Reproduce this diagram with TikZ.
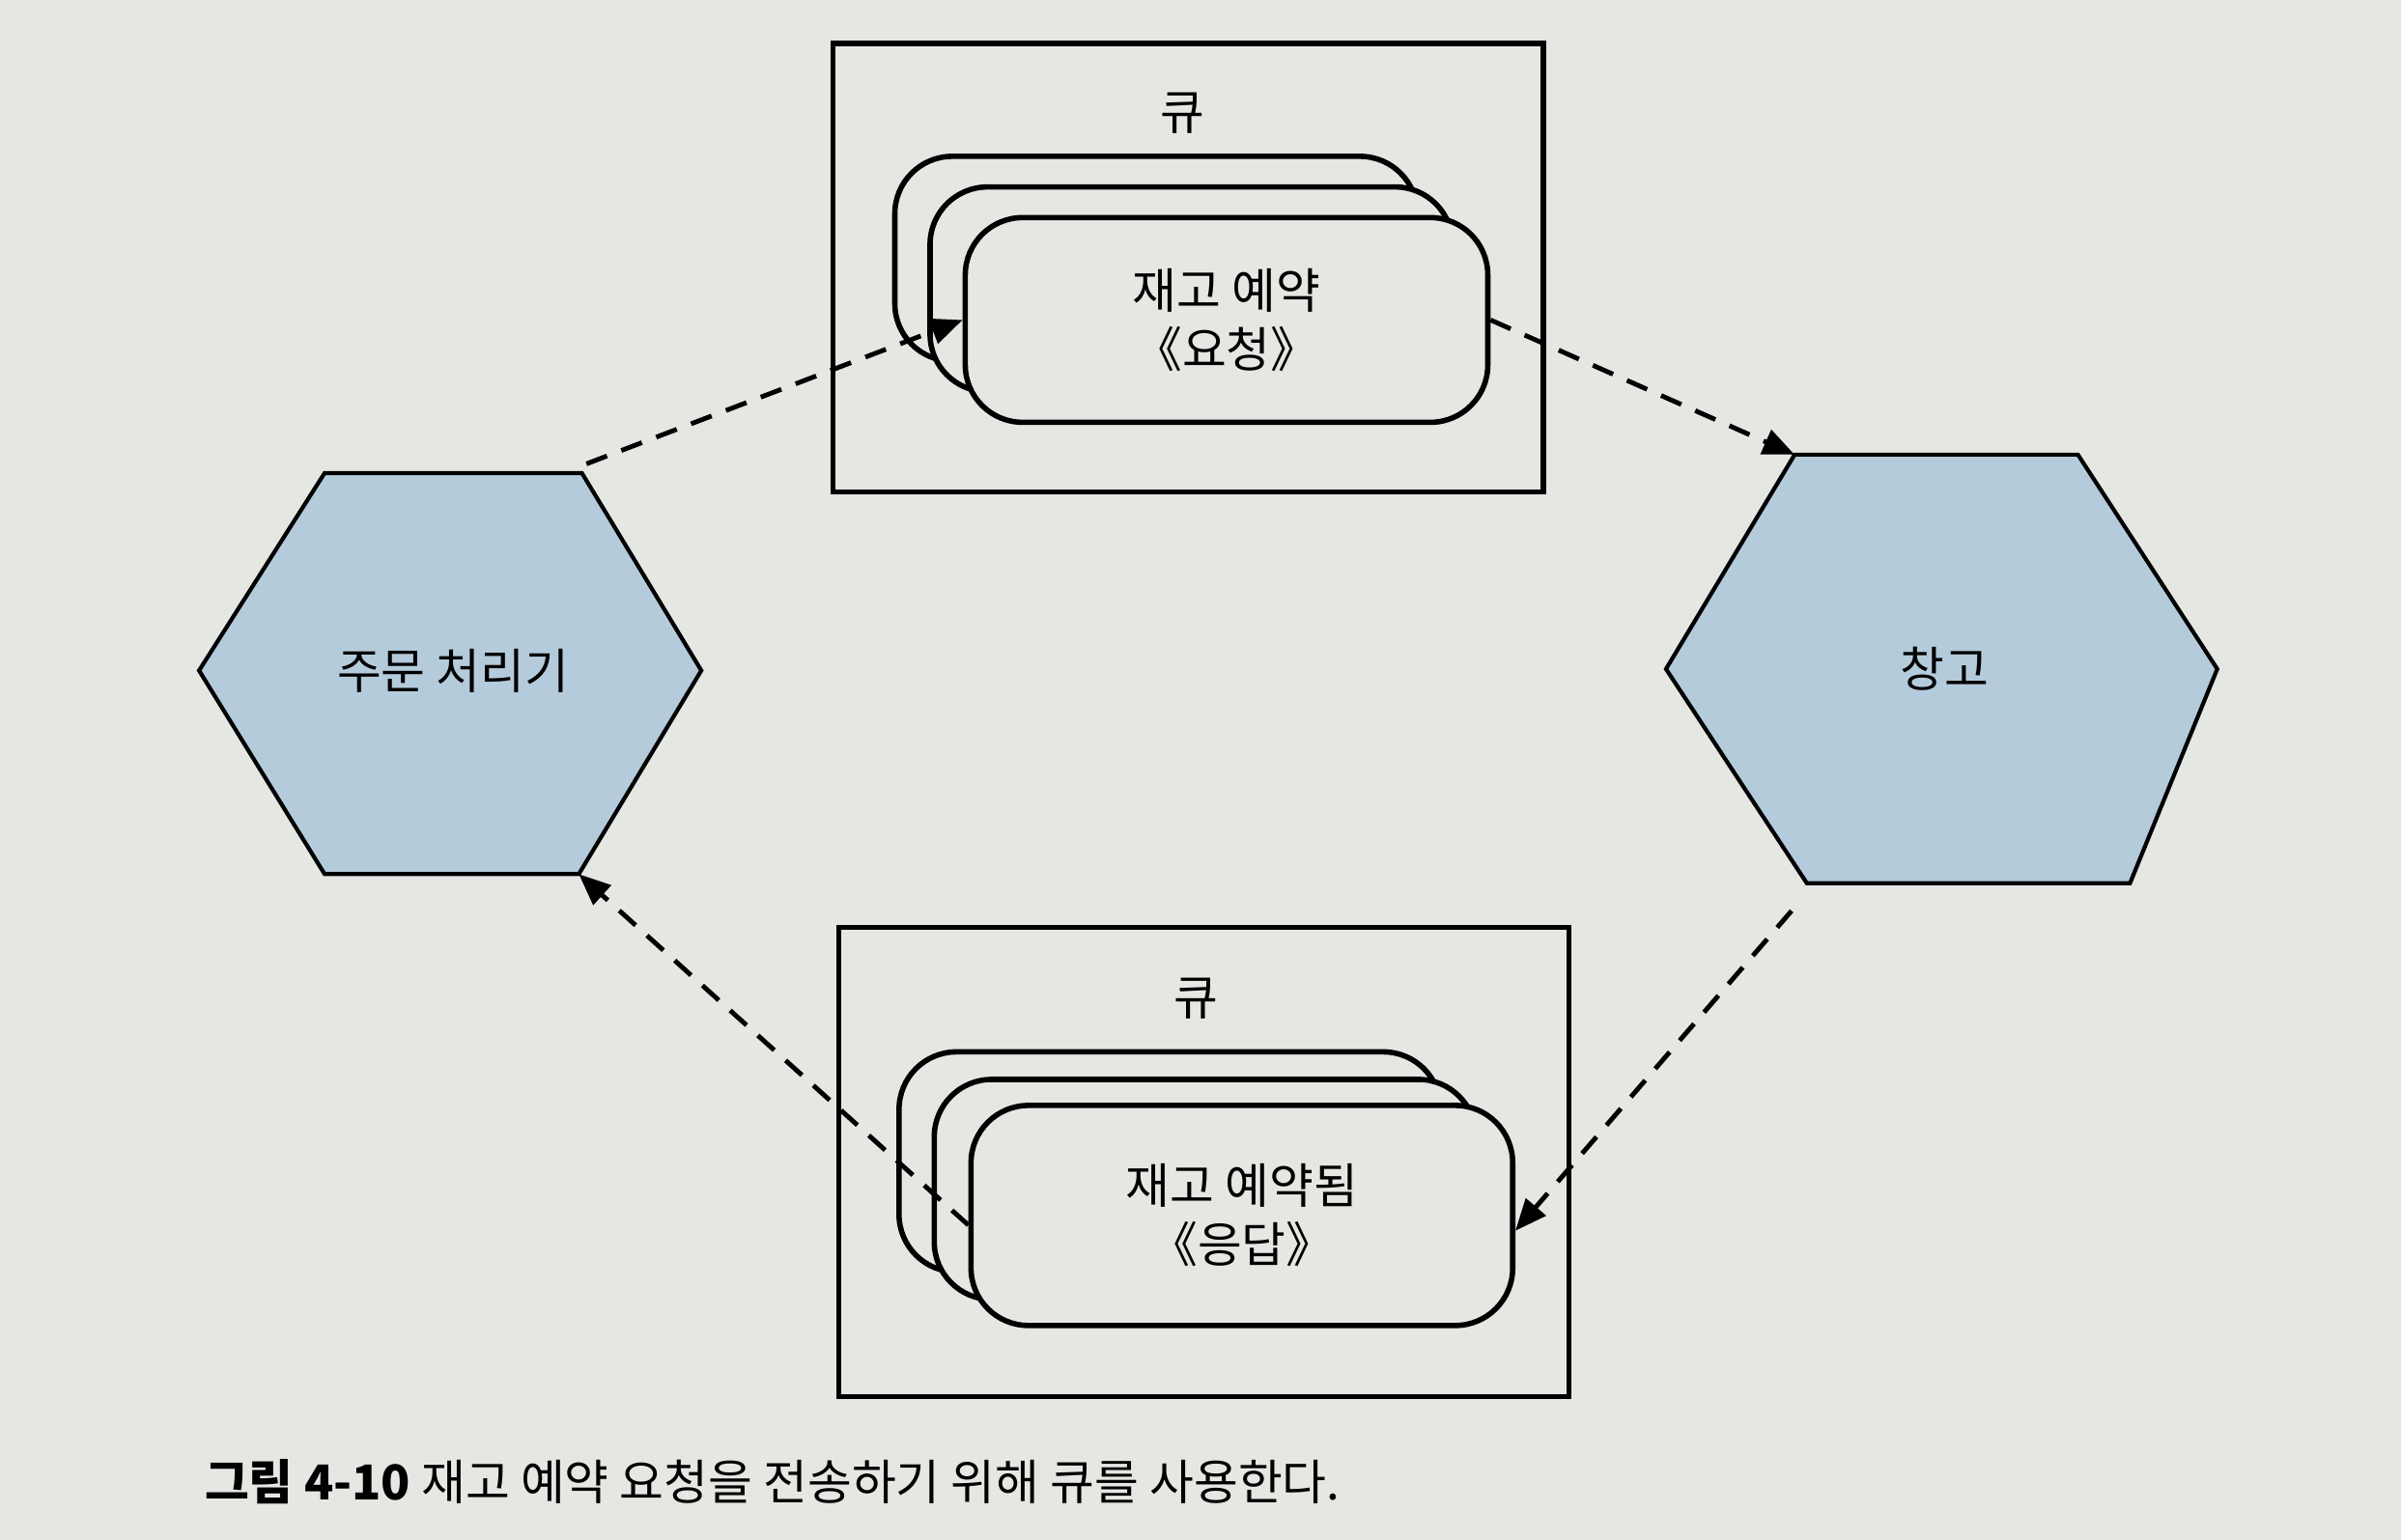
\documentclass[tikz,border=0pt]{standalone}
\usepackage{fontspec}
\setmainfont{Noto Sans CJK KR}
\usetikzlibrary{arrows.meta}
\definecolor{paper}{HTML}{E5E7E3}
\definecolor{hexblue}{HTML}{B4CBDC}
\begin{document}
\begin{tikzpicture}[x=0.16mm,y=-0.16mm,
  qbox/.style={draw,line width=1.5pt,inner sep=0pt},
  card/.style={draw,line width=1.6pt,fill=paper,rounded corners=6mm,inner sep=0pt,align=center,font=\fontsize{14.3}{17.5}\selectfont},
  hexa/.style={draw,line width=1.2pt,fill=hexblue,line join=miter},
  flow/.style={line width=1.4pt,dash pattern=on 2.3mm off 1.6mm,-{Triangle[length=3.3mm,width=2.7mm]}},
  lbl/.style={font=\fontsize{14.3}{16}\selectfont}]
\fill [paper] (0,0) rectangle (1568,1006);
\useasboundingbox (0,0) rectangle (1568,1006);

\draw [hexa] (130,438) coordinate (ow) -- (212,309) -- (380,309) coordinate (one) -- (458,438) -- (378,571) coordinate (ose) -- (212,571) -- cycle;
\node [lbl] (order) at (296,438) {주문 처리기};

\draw [hexa] (1088,437) -- (1172,297) coordinate (wnw) -- (1357,297) -- (1448,437) -- (1391,577) -- (1180,577) coordinate (wsw) -- cycle;
\node [lbl] (store) at (1270,437) {창고};

\node [qbox,minimum width=74.2mm,minimum height=46.9mm] (qtop) at (776,175) {};
\node [lbl] (qtoplbl) at (772,74) {큐};
\node [card,minimum width=54.6mm,minimum height=21.4mm] (reqA) at (755,169) {};
\node [card,minimum width=54.6mm,minimum height=21.4mm] (reqB) at (778,189) {};
\node [card,minimum width=54.6mm,minimum height=21.4mm] (reqC) at (801,209) {재고 예약\\《요청》};

\node [qbox,minimum width=76.3mm,minimum height=49.1mm] (qbot) at (786,759) {};
\node [lbl] (qbotlbl) at (781,652) {큐};
\node [card,minimum width=56.6mm,minimum height=23mm] (resA) at (764,759) {};
\node [card,minimum width=56.6mm,minimum height=23mm] (resB) at (787,777) {};
\node [card,minimum width=56.6mm,minimum height=23mm] (resC) at (811,794) {재고 예약됨\\《응답》};

\draw [flow] (one) ++(3,-6) -- (reqC.west);
\draw [flow] (reqC.east) -- (wnw);
\draw [flow] (wsw) ++(-10,18) -- ([yshift=-1.6mm]resC.east);
\draw [flow] ([yshift=-1mm]resC.west) -- (ose);

\node [lbl,anchor=west] (caption) at (126,968) {\textbf{그림 4-10} 재고 예약 요청을 전송하기 위해 큐를 사용한다.};
\end{tikzpicture}
\end{document}
